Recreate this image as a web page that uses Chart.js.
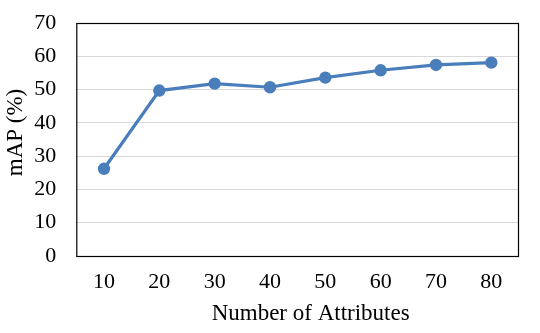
<!DOCTYPE html>
<html>
<head>
<meta charset="utf-8">
<script src="https://cdn.jsdelivr.net/npm/chart.js@4/dist/chart.umd.min.js"></script>
<style>
  html, body { margin: 0; padding: 0; background: #fff; }
  #wrap { width: 540px; height: 333px; position: relative; }
</style>
</head>
<body>
<div id="wrap"><canvas id="mapChart"></canvas></div>
<script>
const attributeCounts = ['10', '20', '30', '40', '50', '60', '70', '80'];
const mapValues = [26.2, 49.7, 51.8, 50.7, 53.6, 55.8, 57.4, 58.1];
const yTicks = [0, 10, 20, 30, 40, 50, 60, 70];
const xTitle = 'Number of Attributes';
const yTitle = 'mAP (%)';

const serif = '"Liberation Serif", "Times New Roman", serif';

// box around the plot area, plus the two axis titles (placed like the original)
const frame = {
    id: 'frame',
    afterDraw(chart) {
        const a = chart.chartArea;
        const ctx = chart.ctx;
        ctx.save();
        ctx.strokeStyle = '#000';
        ctx.lineWidth = 1.2;
        ctx.strokeRect(a.left + 0.5, a.top + 0.5, a.right - a.left - 1, a.bottom - a.top);

        ctx.fillStyle = '#000';
        ctx.font = '23px ' + serif;
        ctx.textAlign = 'center';
        ctx.textBaseline = 'middle';
        ctx.fillText(xTitle, (a.left + a.right) / 2 + 13, 314);

        ctx.translate(16, (a.top + a.bottom) / 2 - 7);
        ctx.rotate(-Math.PI / 2);
        ctx.fillText(yTitle, 0, 0);
        ctx.restore();
    }
};

const ctx = document.getElementById('mapChart').getContext('2d');
new Chart(ctx, {
    type: 'line',
    data: {
        labels: attributeCounts,
        datasets: [{
            label: 'mAP',
            data: mapValues,
            borderColor: '#4a7ebb',
            backgroundColor: '#4a7ebb',
            borderWidth: 3.2,
            pointRadius: 4.6,
            pointHoverRadius: 4.6,
            tension: 0
        }]
    },
    options: {
        responsive: true,
        maintainAspectRatio: false,
        animation: false,
        layout: { padding: { left: 4, right: 21, top: 23, bottom: 6 } },
        plugins: {
            legend: { display: false },
            tooltip: { enabled: false }
        },
        scales: {
            x: {
                offset: true,
                afterFit(axis) {
                    axis.height = 71;
                    axis.paddingLeft = 0;
                    axis.paddingRight = 0;
                },
                grid: { display: false, drawTicks: false },
                border: { display: false },
                ticks: {
                    color: '#000',
                    padding: 13,
                    maxRotation: 0,
                    font: { family: serif, size: 22 }
                }
            },
            y: {
                min: 0,
                max: 70,
                afterBuildTicks(axis) {
                    axis.ticks = yTicks.map(v => ({ value: v }));
                },
                afterFit(axis) {
                    axis.width = 72.3;
                    axis.paddingTop = 0;
                    axis.paddingBottom = 0;
                },
                grid: { color: '#d9d9d9', lineWidth: 1, drawTicks: false },
                border: { display: false },
                ticks: {
                    color: '#000',
                    padding: 20,
                    font: { family: serif, size: 22 }
                }
            }
        }
    },
    plugins: [frame]
});
</script>
</body>
</html>
